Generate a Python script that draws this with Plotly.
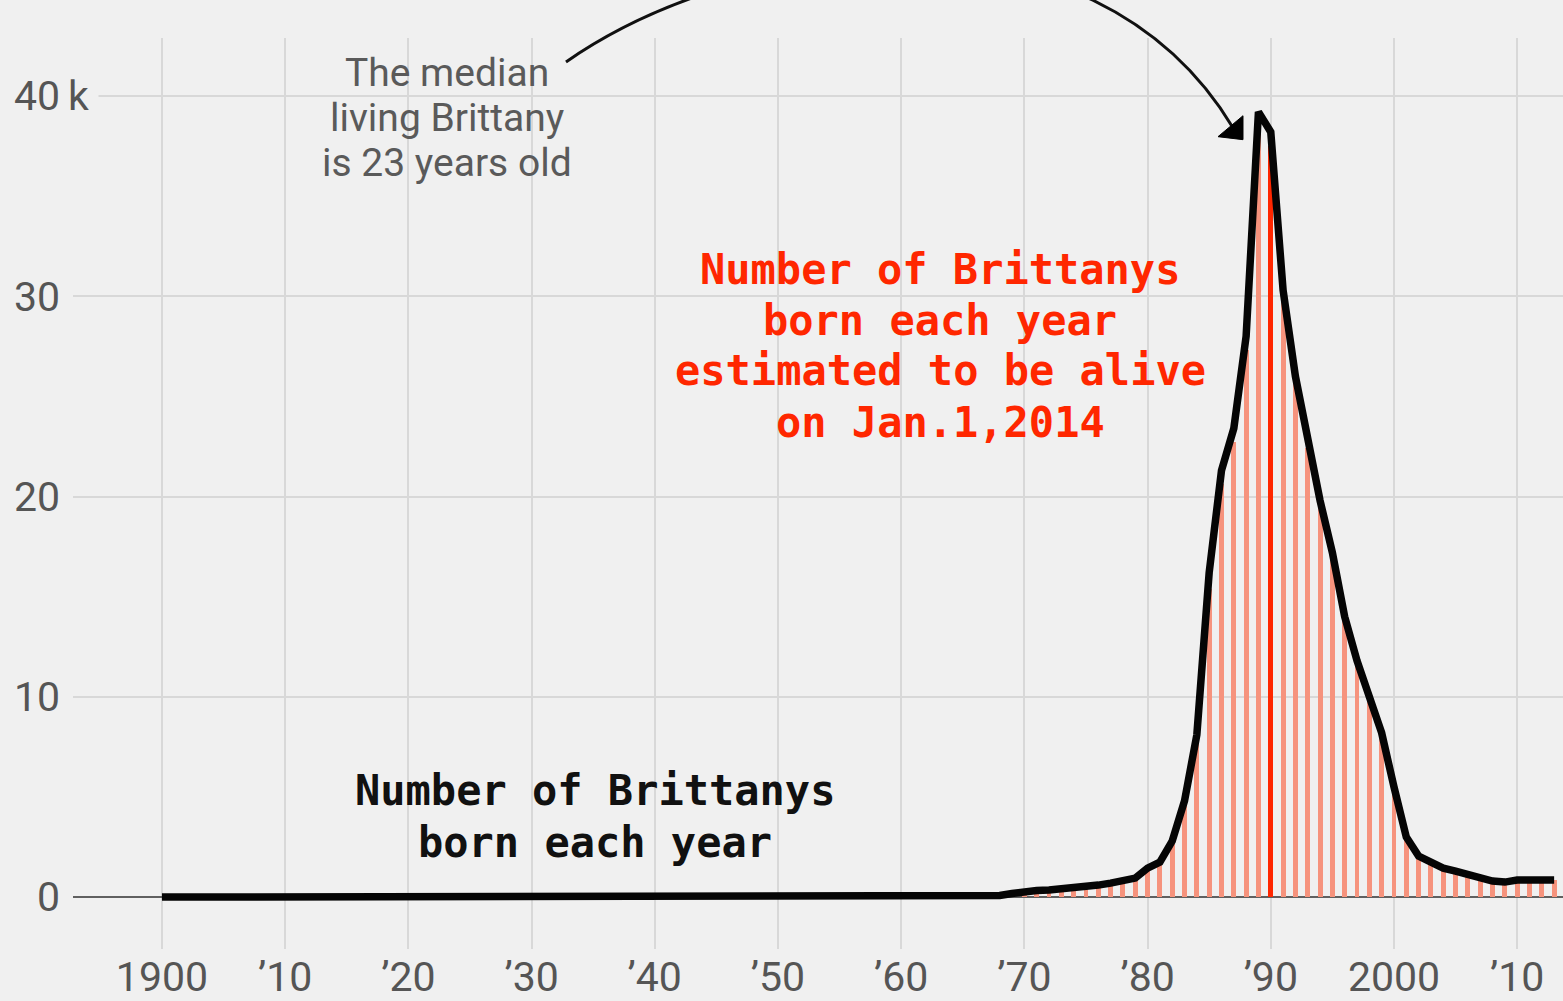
import plotly.graph_objects as go

# ---------------- data (thousands) ----------------
years = list(range(1900, 2014))

born_k = [
    0.0, 0.0, 0.0, 0.0, 0.0, 0.0, 0.0, 0.0, 0.0, 0.0,   # 1900-1909
    0.0, 0.0, 0.0, 0.0, 0.0, 0.0, 0.0, 0.0, 0.0, 0.0,   # 1910-1919
    0.0, 0.0, 0.0, 0.0, 0.0, 0.0, 0.0, 0.0, 0.0, 0.0,   # 1920-1929
    0.0, 0.0, 0.0, 0.0, 0.0, 0.0, 0.0, 0.0, 0.0, 0.0,   # 1930-1939
    0.0, 0.0, 0.0, 0.0, 0.0, 0.0, 0.0, 0.0, 0.0, 0.0,   # 1940-1949
    0.0, 0.0, 0.0, 0.0, 0.0, 0.0, 0.0, 0.0, 0.0, 0.0,   # 1950-1959
    0.0, 0.0, 0.0, 0.0, 0.0, 0.0, 0.0,                  # 1960-1966
    0.0, 0.08, 0.18,                                    # 1967-1969
    0.28, 0.33, 0.36, 0.4, 0.45, 0.5, 0.6, 0.7, 0.82, 0.95,      # 1970s
    1.45, 1.75, 2.8, 4.8, 8.1, 16.2, 21.3, 23.4, 28.0, 39.2,     # 1980s
    38.2, 30.3, 26.0, 22.8, 19.8, 17.2, 14.0, 11.8, 10.0, 8.2,   # 1990s
    5.5, 3.0, 2.05, 1.7, 1.45, 1.3, 1.15, 1.0, 0.8, 0.75,        # 2000s
    0.85, 0.85, 0.85, 0.85,                                      # 2010-2013
]

alive_k = [
    0.0, 0.0, 0.0, 0.0, 0.0, 0.0, 0.0, 0.0, 0.0, 0.0,
    0.0, 0.0, 0.0, 0.0, 0.0, 0.0, 0.0, 0.0, 0.0, 0.0,
    0.0, 0.0, 0.0, 0.0, 0.0, 0.0, 0.0, 0.0, 0.0, 0.0,
    0.0, 0.0, 0.0, 0.0, 0.0, 0.0, 0.0, 0.0, 0.0, 0.0,
    0.0, 0.0, 0.0, 0.0, 0.0, 0.0, 0.0, 0.0, 0.0, 0.0,
    0.0, 0.0, 0.0, 0.0, 0.0, 0.0, 0.0, 0.0, 0.0, 0.0,
    0.0, 0.0, 0.0, 0.0, 0.0, 0.0, 0.0,
    0.0, 0.06, 0.15,
    0.24, 0.29, 0.32, 0.36, 0.41, 0.46, 0.55, 0.65, 0.76, 0.88,
    1.35, 1.65, 2.65, 4.65, 7.8, 15.4, 20.6, 22.7, 27.3, 38.4,
    37.5, 29.8, 25.6, 22.4, 19.5, 16.9, 13.8, 11.6, 9.85, 8.1,
    5.4, 2.95, 2.0, 1.67, 1.42, 1.28, 1.13, 0.98, 0.79, 0.74,
    0.84, 0.84, 0.84, 0.84,
]

median_year = 1990

x_tick_vals = [1900, 1910, 1920, 1930, 1940, 1950, 1960, 1970, 1980, 1990, 2000, 2010]
x_tick_text = ["1900", "\u201910", "\u201920", "\u201930", "\u201940", "\u201950",
               "\u201960", "\u201970", "\u201980", "\u201990", "2000", "\u201910"]
y_tick_vals = [0, 10, 20, 30, 40]
y_tick_text = ["0", "10", "20", "30", "40"]

# ---------------- styling ----------------
BG = "#f0f0f0"
GRID = "#d8d8d8"
RED = "#ff2700"
SALMON = "#f6937d"
TICK_FONT = dict(family="Roboto, Open Sans, sans-serif", size=41, color="#555555")
MONO = "DejaVu Sans Mono, Liberation Mono, monospace"

W, H = 1563, 1001
ML, MR, MT, MB = 73, 0, 38, 49
PW, PH = W - ML - MR, H - MT - MB

X_RANGE = [1892.78, 2013.72]
Y_RANGE = [-2.59, 42.89]


def paper(px, py):
    """convert figure pixel position to paper coordinates"""
    return (px - ML) / PW, (MT + PH - py) / PH


bar_colors = [RED if y == median_year else SALMON for y in years]
bar_widths = [0.44 if y == median_year else 0.4 for y in years]

fig = go.Figure()
fig.add_trace(go.Bar(
    x=years, y=alive_k, width=bar_widths,
    marker=dict(color=bar_colors, line=dict(width=0)),
    hoverinfo="skip", showlegend=False,
))
fig.add_trace(go.Scatter(
    x=years, y=born_k, mode="lines",
    line=dict(color="#050505", width=7.5),
    hoverinfo="skip", showlegend=False,
))

annotations = []

# gray note
gray_lines = [("The median", 73), ("living Brittany", 118), ("is 23 years old", 163)]
for txt, py in gray_lines:
    xp, yp = paper(447, py)
    annotations.append(dict(
        text=txt, xref="paper", yref="paper", x=xp, y=yp,
        xanchor="center", yanchor="middle", showarrow=False,
        font=dict(family="Roboto, sans-serif", size=39, color="#5a5a5a"),
    ))

# red label
red_lines = [("Number of Brittanys", 270), ("born each year", 321),
             ("estimated to be alive", 372), ("on Jan.1,2014", 424)]
for txt, py in red_lines:
    xp, yp = paper(940, py)
    annotations.append(dict(
        text=txt, xref="paper", yref="paper", x=xp, y=yp,
        xanchor="center", yanchor="middle", showarrow=False,
        font=dict(family=MONO, size=42, color=RED, weight="bold"),
    ))

# black label
black_lines = [("Number of Brittanys", 793), ("born each year", 845)]
for txt, py in black_lines:
    xp, yp = paper(595, py)
    annotations.append(dict(
        text=txt, xref="paper", yref="paper", x=xp, y=yp,
        xanchor="center", yanchor="middle", showarrow=False,
        font=dict(family=MONO, size=42, color="#111111", weight="bold"),
    ))

# " k" suffix on the 40 tick, masking the gridline behind it
kx, _ = paper(67, 0)
annotations.append(dict(
    text="k", xref="paper", yref="y", x=kx, y=40,
    xanchor="left", yanchor="middle", showarrow=False,
    align="left", width=30, bgcolor=BG, borderpad=0,
    font=TICK_FONT,
))

# curved arrow (cubic bezier) from the note to the peak
p0 = paper(566, 62)
p1 = paper(740, -60)
p2 = paper(1090, -110)
p3 = paper(1233, 128)
arc_path = "M {:.5f},{:.5f} C {:.5f},{:.5f} {:.5f},{:.5f} {:.5f},{:.5f}".format(
    *p0, *p1, *p2, *p3)
t1 = paper(1243, 116)
t2 = paper(1218, 137)
t3 = paper(1243, 140)
head_path = "M {:.5f},{:.5f} L {:.5f},{:.5f} L {:.5f},{:.5f} Z".format(*t1, *t2, *t3)

shapes = [
    dict(type="path", xref="paper", yref="paper", path=arc_path,
         line=dict(color="#111111", width=3), fillcolor="rgba(0,0,0,0)"),
    dict(type="path", xref="paper", yref="paper", path=head_path,
         line=dict(color="#000000", width=1), fillcolor="#000000"),
]

fig.update_layout(
    width=W, height=H,
    margin=dict(l=ML, r=MR, t=MT, b=MB, pad=0),
    paper_bgcolor=BG, plot_bgcolor=BG,
    bargap=0,
    showlegend=False,
    annotations=annotations,
    shapes=shapes,
    xaxis=dict(
        range=X_RANGE, tickmode="array", tickvals=x_tick_vals, ticktext=x_tick_text,
        showgrid=True, gridcolor=GRID, gridwidth=2, zeroline=False,
        ticks="", showline=False, tickfont=TICK_FONT, ticklabelstandoff=0,
        fixedrange=True,
    ),
    yaxis=dict(
        range=Y_RANGE, tickmode="array", tickvals=y_tick_vals, ticktext=y_tick_text,
        showgrid=True, gridcolor=GRID, gridwidth=2,
        zeroline=True, zerolinecolor="#606060", zerolinewidth=2,
        ticks="", showline=False, tickfont=TICK_FONT, ticklabelstandoff=12,
        fixedrange=True,
    ),
)

fig.write_html(
    "out.html",
    config={"displayModeBar": False},
    post_script="document.body.style.margin='0';document.body.style.background='#f0f0f0';",
)
